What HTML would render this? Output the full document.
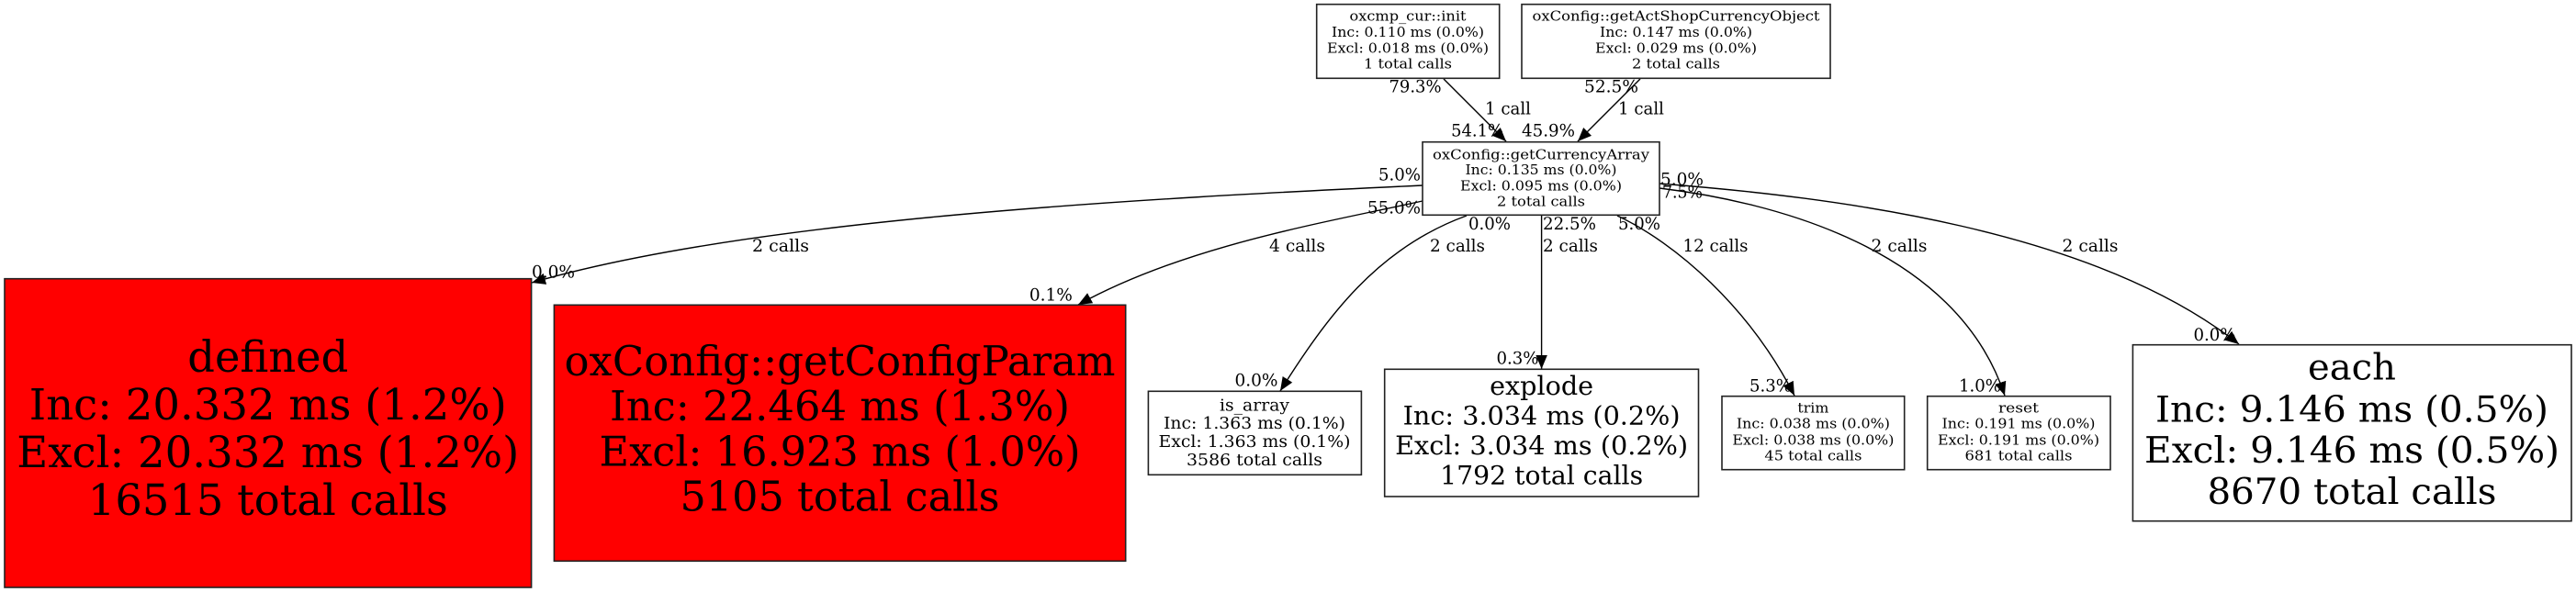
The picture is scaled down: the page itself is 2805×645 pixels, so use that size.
<!DOCTYPE html>
<html><head><meta charset="utf-8"><style>
html,body{margin:0;padding:0;background:#fff;width:2805px;height:645px;overflow:hidden}
svg{display:block}
text{font-family:"DejaVu Serif","Liberation Serif",serif;text-anchor:middle;fill:#000}
.n{stroke:#222;stroke-width:1.6;fill:#fff}
.r{stroke:#222;stroke-width:1.6;fill:#f00}
.e{stroke:#000;stroke-width:1.4;fill:none;marker-end:url(#a)}
.l{font-size:19px}
</style></head><body>
<svg width="2805" height="645" viewBox="0 0 2805 645" xmlns="http://www.w3.org/2000/svg">
<defs><marker id="a" markerUnits="userSpaceOnUse" markerWidth="20" markerHeight="16" refX="15" refY="7" orient="auto"><path d="M0,0.75L15,7L0,13.25Z" fill="#000"/></marker></defs>

<path class="e" d="M1572,86L1640,154"/>
<path class="e" d="M1786,86L1718,154"/>
<path class="e" d="M1549,202C1250,216 820,238 579,308"/>
<path class="e" d="M1549,219C1440,243 1290,268 1174,332"/>
<path class="e" d="M1597,235C1500,270 1445,345 1394,426"/>
<path class="e" d="M1678.6,235L1678.6,402"/>
<path class="e" d="M1761,235C1825,265 1905,335 1954,431"/>
<path class="e" d="M1807,205C1930,220 2130,270 2183,431"/>
<path class="e" d="M1807,200C2000,215 2280,250 2438,375"/>

<rect class="n" x="1433.7" y="4.7" width="199" height="80.6"/>
<g font-size="15"><text lengthAdjust="spacingAndGlyphs" x="1533" y="22.7" textLength="127">oxcmp_cur::init</text><text lengthAdjust="spacingAndGlyphs" x="1533" y="40" textLength="166">Inc: 0.110 ms (0.0%)</text><text lengthAdjust="spacingAndGlyphs" x="1533" y="57.3" textLength="176">Excl: 0.018 ms (0.0%)</text><text lengthAdjust="spacingAndGlyphs" x="1533" y="74.7" textLength="96">1 total calls</text></g>

<rect class="n" x="1657" y="4.7" width="336" height="80.6"/>
<g font-size="15"><text lengthAdjust="spacingAndGlyphs" x="1825" y="22.7" textLength="313">oxConfig::getActShopCurrencyObject</text><text lengthAdjust="spacingAndGlyphs" x="1825" y="40" textLength="166">Inc: 0.147 ms (0.0%)</text><text lengthAdjust="spacingAndGlyphs" x="1825" y="57.3" textLength="176">Excl: 0.029 ms (0.0%)</text><text lengthAdjust="spacingAndGlyphs" x="1825" y="74.7" textLength="96">2 total calls</text></g>

<rect class="n" x="1549" y="154.7" width="258" height="79.6"/>
<g font-size="15"><text lengthAdjust="spacingAndGlyphs" x="1678" y="173.3" textLength="236">oxConfig::getCurrencyArray</text><text lengthAdjust="spacingAndGlyphs" x="1678" y="190" textLength="165">Inc: 0.135 ms (0.0%)</text><text lengthAdjust="spacingAndGlyphs" x="1678" y="207.3" textLength="176">Excl: 0.095 ms (0.0%)</text><text lengthAdjust="spacingAndGlyphs" x="1678" y="224.7" textLength="96">2 total calls</text></g>

<rect class="r" x="5" y="303.7" width="573.6" height="336.3"/>
<g font-size="46.5"><text lengthAdjust="spacingAndGlyphs" x="291.8" y="405" textLength="175">defined</text><text lengthAdjust="spacingAndGlyphs" x="291.8" y="457" textLength="520">Inc: 20.332 ms (1.2%)</text><text lengthAdjust="spacingAndGlyphs" x="291.8" y="509" textLength="547">Excl: 20.332 ms (1.2%)</text><text lengthAdjust="spacingAndGlyphs" x="291.8" y="561" textLength="392">16515 total calls</text></g>

<rect class="r" x="603.4" y="332.3" width="622.3" height="279"/>
<g font-size="44.5"><text lengthAdjust="spacingAndGlyphs" x="914.5" y="409" textLength="600">oxConfig::getConfigParam</text><text lengthAdjust="spacingAndGlyphs" x="914.5" y="458" textLength="501">Inc: 22.464 ms (1.3%)</text><text lengthAdjust="spacingAndGlyphs" x="914.5" y="507.7" textLength="524">Excl: 16.923 ms (1.0%)</text><text lengthAdjust="spacingAndGlyphs" x="914.5" y="556.7" textLength="348">5105 total calls</text></g>

<rect class="n" x="1250.4" y="426.3" width="232" height="91"/>
<g font-size="17.8"><text lengthAdjust="spacingAndGlyphs" x="1366" y="447.3" textLength="76">is_array</text><text lengthAdjust="spacingAndGlyphs" x="1366" y="467" textLength="198">Inc: 1.363 ms (0.1%)</text><text lengthAdjust="spacingAndGlyphs" x="1366" y="487" textLength="209">Excl: 1.363 ms (0.1%)</text><text lengthAdjust="spacingAndGlyphs" x="1366" y="507" textLength="148">3586 total calls</text></g>

<rect class="n" x="1507.7" y="402.3" width="341.8" height="138.7"/>
<g font-size="28"><text lengthAdjust="spacingAndGlyphs" x="1678.6" y="430" textLength="113">explode</text><text lengthAdjust="spacingAndGlyphs" x="1678.6" y="462.7" textLength="302">Inc: 3.034 ms (0.2%)</text><text lengthAdjust="spacingAndGlyphs" x="1678.6" y="495" textLength="319">Excl: 3.034 ms (0.2%)</text><text lengthAdjust="spacingAndGlyphs" x="1678.6" y="527.3" textLength="221">1792 total calls</text></g>

<rect class="n" x="1875" y="431.7" width="198.7" height="80"/>
<g font-size="15"><text lengthAdjust="spacingAndGlyphs" x="1974.4" y="449.3" textLength="34">trim</text><text lengthAdjust="spacingAndGlyphs" x="1974.4" y="466.7" textLength="167">Inc: 0.038 ms (0.0%)</text><text lengthAdjust="spacingAndGlyphs" x="1974.4" y="484.3" textLength="176">Excl: 0.038 ms (0.0%)</text><text lengthAdjust="spacingAndGlyphs" x="1974.4" y="501.7" textLength="106">45 total calls</text></g>

<rect class="n" x="2098.7" y="431.7" width="199.3" height="80"/>
<g font-size="15"><text lengthAdjust="spacingAndGlyphs" x="2198" y="449.3" textLength="44">reset</text><text lengthAdjust="spacingAndGlyphs" x="2198" y="466.7" textLength="167">Inc: 0.191 ms (0.0%)</text><text lengthAdjust="spacingAndGlyphs" x="2198" y="484.3" textLength="176">Excl: 0.191 ms (0.0%)</text><text lengthAdjust="spacingAndGlyphs" x="2198" y="501.7" textLength="117">681 total calls</text></g>

<rect class="n" x="2322.4" y="375.7" width="477.6" height="192"/>
<g font-size="39"><text lengthAdjust="spacingAndGlyphs" x="2561" y="413.3" textLength="96">each</text><text lengthAdjust="spacingAndGlyphs" x="2561" y="459.3" textLength="428">Inc: 9.146 ms (0.5%)</text><text lengthAdjust="spacingAndGlyphs" x="2561" y="504" textLength="452">Excl: 9.146 ms (0.5%)</text><text lengthAdjust="spacingAndGlyphs" x="2561" y="549" textLength="315">8670 total calls</text></g>

<g class="l">
<text lengthAdjust="spacingAndGlyphs" x="1541" y="100.7" textLength="57">79.3%</text>
<text lengthAdjust="spacingAndGlyphs" x="1642" y="124.3" textLength="50">1 call</text>
<text lengthAdjust="spacingAndGlyphs" x="1608.6" y="148.3" textLength="57">54.1%</text>
<text lengthAdjust="spacingAndGlyphs" x="1686" y="148.3" textLength="58">45.9%</text>
<text lengthAdjust="spacingAndGlyphs" x="1754.5" y="100.7" textLength="59">52.5%</text>
<text lengthAdjust="spacingAndGlyphs" x="1787" y="124.3" textLength="50">1 call</text>
<text lengthAdjust="spacingAndGlyphs" x="1524" y="196.7" textLength="46">5.0%</text>
<text lengthAdjust="spacingAndGlyphs" x="1518" y="232.7" textLength="58">55.0%</text>
<text lengthAdjust="spacingAndGlyphs" x="1622" y="250" textLength="46">0.0%</text>
<text lengthAdjust="spacingAndGlyphs" x="1709" y="250" textLength="58">22.5%</text>
<text lengthAdjust="spacingAndGlyphs" x="1785" y="250" textLength="46">5.0%</text>
<text lengthAdjust="spacingAndGlyphs" x="1831.5" y="201.7" textLength="47">5.0%</text>
<text lengthAdjust="spacingAndGlyphs" x="1832" y="215.7" textLength="44">7.5%</text>
<text lengthAdjust="spacingAndGlyphs" x="602.5" y="302.7" textLength="47">0.0%</text>
<text lengthAdjust="spacingAndGlyphs" x="850" y="274" textLength="62">2 calls</text>
<text lengthAdjust="spacingAndGlyphs" x="1412.5" y="274" textLength="61">4 calls</text>
<text lengthAdjust="spacingAndGlyphs" x="1144.4" y="327.7" textLength="47">0.1%</text>
<text lengthAdjust="spacingAndGlyphs" x="1368" y="420.7" textLength="47">0.0%</text>
<text lengthAdjust="spacingAndGlyphs" x="1587" y="274" textLength="60">2 calls</text>
<text lengthAdjust="spacingAndGlyphs" x="1710" y="274" textLength="60">2 calls</text>
<text lengthAdjust="spacingAndGlyphs" x="1868" y="274" textLength="71">12 calls</text>
<text lengthAdjust="spacingAndGlyphs" x="1652.5" y="396.7" textLength="46">0.3%</text>
<text lengthAdjust="spacingAndGlyphs" x="1928" y="426.7" textLength="46">5.3%</text>
<text lengthAdjust="spacingAndGlyphs" x="2068" y="274" textLength="61">2 calls</text>
<text lengthAdjust="spacingAndGlyphs" x="2276" y="274" textLength="61">2 calls</text>
<text lengthAdjust="spacingAndGlyphs" x="2156" y="426.7" textLength="46">1.0%</text>
<text lengthAdjust="spacingAndGlyphs" x="2411.5" y="371" textLength="46">0.0%</text>
</g>
</svg>
</body></html>
